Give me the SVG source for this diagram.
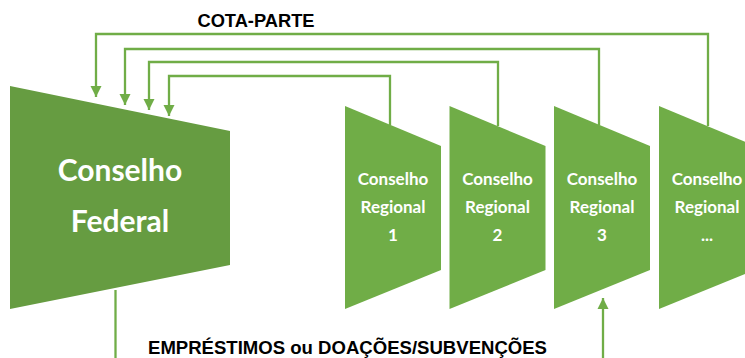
<svg xmlns="http://www.w3.org/2000/svg" width="745" height="358" viewBox="0 0 745 358">
<defs>
<style>
.cf{fill:#669C41}
.cr{fill:#70AD47}
.ln{fill:none;stroke:#70AD47;stroke-width:2.3}
.wt{font-family:Lato,"Open Sans","DejaVu Sans",sans-serif;font-weight:700;fill:#FFFFFF;text-anchor:middle}
.lb{font-family:"Liberation Sans",Arial,sans-serif;font-weight:700;fill:#000000;font-size:18.3px}
</style>
<marker id="ah" markerUnits="userSpaceOnUse" markerWidth="12" markerHeight="12" viewBox="0 0 12 12" refX="11" refY="6" orient="auto">
<path d="M0,0.5 L11,6 L0,11.5 Z" fill="#70AD47"/>
</marker>
</defs>
<rect width="745" height="358" fill="#FFFFFF"/>
<g id="conselho-federal">
<polygon class="cf" points="10,86 230,131 230,265 10,309"/>
<text class="wt" x="120" y="181" font-size="30">Conselho</text>
<text class="wt" x="120" y="232" font-size="30">Federal</text>
</g>
<g id="conselho-regional-1">
<polygon class="cr" points="345,106 441,146 441,270 345,309"/>
<text class="wt" x="393" y="185" font-size="17">Conselho</text>
<text class="wt" x="393" y="213" font-size="17">Regional</text>
<text class="wt" x="393" y="241" font-size="17">1</text>
</g>
<g id="conselho-regional-2">
<polygon class="cr" points="449.5,106 545.5,146 545.5,270 449.5,309"/>
<text class="wt" x="497.5" y="185" font-size="17">Conselho</text>
<text class="wt" x="497.5" y="213" font-size="17">Regional</text>
<text class="wt" x="497.5" y="241" font-size="17">2</text>
</g>
<g id="conselho-regional-3">
<polygon class="cr" points="554,106 650,146 650,270 554,309"/>
<text class="wt" x="602" y="185" font-size="17">Conselho</text>
<text class="wt" x="602" y="213" font-size="17">Regional</text>
<text class="wt" x="602" y="241" font-size="17">3</text>
</g>
<g id="conselho-regional-n">
<polygon class="cr" points="659,106 755,146 755,270 659,309"/>
<text class="wt" x="707" y="185" font-size="17">Conselho</text>
<text class="wt" x="707" y="213" font-size="17">Regional</text>
<text class="wt" x="707" y="241" font-size="17">...</text>
</g>
<g id="connectors">
<path class="ln" d="M708,126 V34 H96 V97" marker-end="url(#ah)"/>
<path class="ln" d="M599,125 V49 H125 V105" marker-end="url(#ah)"/>
<path class="ln" d="M498,126 V62 H149 V110" marker-end="url(#ah)"/>
<path class="ln" d="M390,125 V76 H169 V116" marker-end="url(#ah)"/>
<path class="ln" d="M115.5,290 V358"/>
<path class="ln" d="M603,358 V298" marker-end="url(#ah)"/>
</g>
<g id="labels">
<text class="lb" x="256" y="27" text-anchor="middle">COTA-PARTE</text>
<text class="lb" x="148" y="354" textLength="399" lengthAdjust="spacingAndGlyphs">EMPRÉSTIMOS ou DOAÇÕES/SUBVENÇÕES</text>
</g>
</svg>
